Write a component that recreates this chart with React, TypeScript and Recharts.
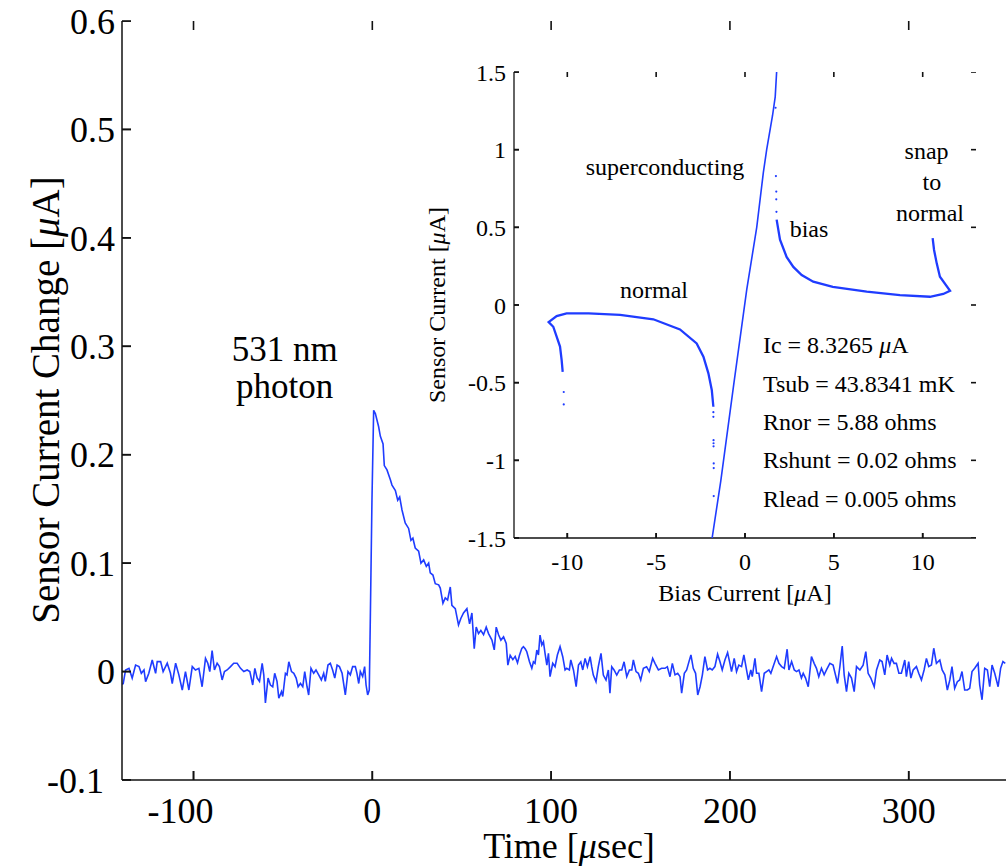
import React from 'react';
import { ComposedChart, ScatterChart, Line, Scatter, XAxis, YAxis } from 'recharts';

const SERIF = '"Liberation Serif", "Times New Roman", serif';
const BLUE = '#1f3cff';
const AXIS = '#111';

// main trace: time [usec] and sensor current change [uA]
const traceTime = [
  -139.8, -139.3, -138.0, -136.1, -134.3, -132.4, -130.5, -129.2, -127.7, -126.8,
  -125.0, -123.1, -121.2, -120.3, -118.4, -117.0, -114.7, -112.9, -111.9, -110.0,
  -108.2, -106.3, -104.5, -102.6, -100.7, -98.9, -97.0, -95.2, -93.3, -92.0,
  -90.9, -89.6, -88.3, -86.8, -85.5, -84.0, -82.7, -81.2, -79.3, -77.5,
  -75.6, -73.7, -71.9, -70.0, -68.5,
  -66.9, -65.7, -64.4, -63.1, -61.6, -60.7, -59.8, -58.3, -57.0, -55.7,
  -54.6, -53.3, -52.3, -50.8, -50.1, -48.6, -47.7, -46.7, -45.2, -43.9,
  -42.6, -41.5, -40.2, -38.9, -37.8, -36.5, -35.6, -34.3, -32.8, -31.5,
  -30.0, -28.5, -27.2, -26.3, -24.8, -23.5, -22.2, -21.0, -19.7, -18.4,
  -16.9, -15.1, -13.6, -12.3, -11.0, -9.5, -8.6, -7.6, -6.7, -5.4,
  -4.3, -3.5, -2.6, -1.7, -1.1, -0.2, 0.75,
  1.7, 3.5, 4.5, 6.0, 6.7, 8.2, 10.1, 11.0, 12.9, 14.2,
  15.3, 16.6, 18.4, 20.3, 21.6, 22.7, 24.0, 25.9, 27.2, 28.7,
  30.2, 31.5, 32.4, 33.9, 35.2, 37.1, 38.0, 39.5, 40.8, 42.1,
  43.6, 44.5, 46.4, 48.2, 49.5, 51.0, 52.9, 54.4, 55.7, 57.0,
  58.1, 59.4, 60.7, 62.2, 63.7, 65.0, 66.9, 68.2, 69.3, 70.6,
  71.9, 73.4, 74.9, 75.8, 77.1, 78.6, 79.9, 81.2, 82.3,
  83.6, 84.5, 85.5, 86.4, 87.9, 89.2, 90.1, 91.0, 92.0, 92.9,
  93.8, 94.8, 95.7, 96.6, 97.6, 98.5, 99.4, 100.9, 102.2, 103.5,
  105.0, 106.5, 107.8, 108.7, 110.2, 111.0, 112.5, 114.0, 115.3, 116.6,
  117.7, 119.0, 120.3, 121.8, 122.7, 123.6, 125.1, 126.4, 127.9, 129.2,
  130.7, 132.0, 132.9, 133.9, 135.2, 136.7, 138.2, 139.5, 140.8, 142.3,
  143.8, 145.1, 146.0, 147.5, 148.8, 150.1, 151.6, 153.4, 154.9, 156.8,
  158.1, 160.0, 161.8, 163.7, 165.0,
  166.5, 167.8, 169.3, 170.8, 172.1, 173.0, 174.5, 175.8, 177.1, 178.2,
  179.5, 180.8, 182.0, 183.3, 184.6, 186.0, 187.5, 188.8, 190.1, 191.6,
  193.1, 194.4, 195.7, 197.2, 198.7, 200.0, 200.9, 202.4, 203.7, 205.0,
  206.5, 207.8, 209.3, 210.3, 211.7, 212.5, 214.0, 214.9, 216.2, 217.7,
  219.2, 220.5, 221.8, 222.9, 224.2, 226.1, 227.4, 228.9, 230.4, 232.0,
  233.0, 234.5, 236.0, 237.3, 238.6, 240.0, 241.0, 242.3, 243.8, 245.6,
  247.1, 248.4, 249.7, 251.2, 252.7, 254.0, 255.9, 257.7,
  260.2, 261.5, 262.8, 263.9, 265.2, 266.5, 268.0, 269.5, 270.8, 272.7,
  274.5, 276.0, 277.3, 278.8, 280.7, 282.0, 283.8, 285.1, 286.6, 287.9,
  289.4, 290.4, 291.8, 293.1, 294.5, 295.9, 297.8, 298.7, 300.0, 301.2,
  302.5, 304.3, 305.6, 307.1, 308.6, 309.9, 311.2, 312.7, 314.0, 315.5,
  317.4, 318.7, 320.2, 321.6, 323.0, 324.2, 325.7, 327.2, 328.5, 329.8,
  331.3, 332.8, 334.1, 335.4, 336.9, 338.8, 339.7, 341.0, 342.5, 344.0,
  345.3, 346.6, 348.1, 350.0, 351.4, 352.7, 354.0,
];
const traceValue = [
  -0.012, -0.011, 0.0015, 0.003, -0.006, 0.006, 0.0046, -0.0016, 0.0015, -0.0093,
  -0.0016, 0.0107, -0.0016, 0.0092, 0.0092, 0.0, 0.0077, -0.0016, -0.011, 0.0077,
  -0.003, -0.017, 0.0, -0.017, 0.0046, 0.0015, 0.003, -0.014, 0.0122, 0.0077,
  0.0, 0.0193, 0.0015, 0.0077, 0.0046, -0.0077, 0.0, 0.0015, 0.0046, 0.0077,
  0.0077, 0.003, 0.0, 0.0015, 0.0,
  -0.0124, 0.003, -0.006, -0.009, 0.0076, -0.003, -0.029, -0.006, -0.0124, -0.014,
  -0.0016, -0.009, -0.0246, -0.0185, -0.023, -0.0016, -0.003, 0.009, 0.0, -0.0016,
  -0.006, -0.014, -0.011, -0.014, 0.0, -0.014, -0.0216, 0.003, -0.0016, 0.0015,
  -0.003, -0.0077, -0.0016, -0.009, 0.006, 0.0076, 0.0015, -0.006, 0.006, 0.0046,
  -0.0016, -0.0216, 0.0, -0.003, 0.0046, 0.0046, -0.0016, -0.011, 0.0, -0.0046,
  0.0046, -0.0124, -0.0216, -0.017, 0.051, 0.158, 0.241,
  0.238, 0.226, 0.217, 0.21, 0.19, 0.186, 0.177, 0.172, 0.167, 0.158,
  0.161, 0.149, 0.137, 0.132, 0.121, 0.123, 0.114, 0.111, 0.1, 0.103,
  0.097, 0.1, 0.091, 0.089, 0.081, 0.08, 0.077, 0.063, 0.068, 0.066,
  0.078, 0.061, 0.058, 0.043, 0.049, 0.054, 0.058, 0.044, 0.054, 0.021,
  0.041, 0.035, 0.038, 0.034, 0.041, 0.035, 0.029, 0.02, 0.041, 0.034,
  0.029, 0.032, 0.026, 0.006, 0.015, 0.011, 0.014, 0.008, 0.015,
  0.0214, 0.023, 0.021, 0.0183, 0.009, 0.003, 0.009, 0.0076, 0.0199, 0.0153,
  0.0337, 0.0245, 0.0276, 0.0168, 0.006, 0.0168, -0.0047, 0.0076, 0.0045, 0.0153,
  0.023, 0.0137, 0.0015, 0.003, 0.0015, 0.0107, 0.0015, -0.0139, 0.006, 0.009,
  0.0015, 0.0122, 0.0045, 0.0137, 0.0045, -0.0032, -0.0093, 0.0045, 0.0168, -0.0032,
  -0.0078, 0.0015, -0.02, 0.0045, 0.0015, -0.0032, 0.0015, 0.0015, 0.009, -0.0047,
  0.0015, 0.0015, 0.0107, 0.0, -0.0016, -0.0078, 0.003, 0.0045, 0.0, 0.0122,
  0.0076, 0.0015, 0.003, 0.003, 0.0045,
  -0.0047, 0.0076, -0.003, -0.0016, -0.0047, -0.02, -0.0016, 0.0015, 0.0092, 0.0153,
  0.003, -0.0016, -0.0216, -0.014, -0.003, 0.0138, 0.0015, 0.003, 0.0015, 0.0046,
  0.016, 0.0092, 0.0015, 0.0107, 0.0175, 0.0076, 0.0, 0.0122, 0.0, 0.006,
  0.0046, 0.0153, 0.0015, -0.0077, 0.0015, -0.0047, 0.0122, -0.0016, -0.0016, -0.0185,
  -0.0016, 0.0, 0.0015, -0.0016, 0.0046, 0.0138, 0.0076, 0.0046, 0.003, 0.0206,
  0.0015, 0.0092, 0.0015, 0.0, 0.0015, -0.006, -0.0016, -0.006, -0.014, 0.0138,
  0.0076, 0.003, -0.0047, 0.003, -0.003, 0.0015, 0.0076, 0.006,
  -0.011, 0.0046, 0.0236, -0.003, -0.0185, -0.0016, -0.006, -0.0185, 0.0046, 0.0015,
  0.006, 0.0184, -0.0016, -0.006, -0.014, 0.0015, 0.0107, 0.0092, -0.003, 0.0153,
  0.006, 0.0122, 0.0076, 0.0076, -0.0016, -0.0016, 0.0107, -0.0047, 0.0092, -0.006,
  0.0015, 0.0046, -0.0016, -0.0077, 0.0015, 0.0122, 0.0046, 0.006, 0.0215, 0.0076,
  0.0107, 0.0015, -0.003, -0.017, -0.0077, 0.0046, -0.0154, -0.0093, -0.0077, 0.0,
  -0.017, -0.017, -0.0154, 0.0, 0.003, 0.0076, -0.0124, -0.026, 0.003, 0.0015,
  -0.014, 0.006, -0.0016, -0.014, 0.003, 0.0092, 0.0076,
];

const timeDomain = [-140, 360];
const changeDomain = [-0.1, 0.6];
const timeTicks = [-100, 0, 100, 200, 300];
const changeTicks = [-0.1, 0, 0.1, 0.2, 0.3, 0.4, 0.5, 0.6];

const photonText = ['531 nm', 'photon'];
const photonT = [-49, -49];
const photonV = [0.2865, 0.2523];

// inset: I-V curve, bias current [uA] vs sensor current [uA]
const normalX = [-10.26, -10.32, -10.41, -10.6, -10.79, -11.05, -10.6, -10.04, -8.8, -7.03, -5.16, -3.66, -2.72, -2.34, -2.06, -1.87, -1.78];
const normalY = [-0.43, -0.354, -0.268, -0.204, -0.14, -0.11, -0.071, -0.054, -0.054, -0.064, -0.092, -0.157, -0.247, -0.333, -0.44, -0.547, -0.655];
const superX = [-1.85, -1.36, -0.62, 0.1, 0.66, 1.03, 1.22, 1.55, 1.7, 1.78];
const superY = [-1.5, -1.13, -0.5, 0.1, 0.5, 0.85, 1.0, 1.22, 1.34, 1.5];
const biasX = [1.78, 1.97, 2.34, 2.72, 3.19, 3.84, 4.94, 6.85, 8.72, 10.41, 11.16, 11.54, 10.97, 10.79, 10.64, 10.56];
const biasY = [0.55, 0.42, 0.31, 0.245, 0.193, 0.15, 0.116, 0.086, 0.064, 0.053, 0.071, 0.092, 0.182, 0.268, 0.354, 0.43];
const strayX = [1.72, 1.74, 1.76, 1.76, 1.77, 10.49, -10.2, -10.2, -1.78, -1.78, -1.77, -1.77, -1.77, -1.76, -1.76, -1.76];
const strayY = [1.27, 0.83, 0.73, 0.68, 0.6, 0.56, -0.56, -0.64, -0.69, -0.72, -0.87, -0.89, -0.91, -1.02, -1.05, -1.23];

const biasDomain = [-13, 13];
const currentDomain = [-1.5, 1.5];
const biasTicks = [-10, -5, 0, 5, 10];
const currentTicks = [-1.5, -1, -0.5, 0, 0.5, 1, 1.5];

const regionText = ['superconducting', 'normal', 'bias', 'snap', 'to', 'normal'];
const regionX = [-4.5, -5.12, 3.6, 10.22, 10.52, 10.41];
const regionY = [0.837, 0.045, 0.44, 0.94, 0.74, 0.543];

const paramText = ['Ic = 8.3265 μA', 'Tsub = 43.8341 mK', 'Rnor = 5.88 ohms', 'Rshunt = 0.02 ohms', 'Rlead = 0.005 ohms'];
const paramX = [1.01, 1.01, 1.01, 1.01, 1.01];
const paramY = [-0.309, -0.558, -0.805, -1.051, -1.302];

const pairs = (xs: number[], ys: number[]) => xs.map((x, i) => ({ x, y: ys[i] }));
const notes = (xs: number[], ys: number[], texts: string[]) => xs.map((x, i) => ({ x, y: ys[i], label: texts[i] }));
const alongX = (ticks: number[], y: number) => ticks.map((x) => ({ x, y }));
const alongY = (ticks: number[], x: number) => ticks.map((y) => ({ x, y }));

const trace = pairs(traceTime, traceValue);

const rich = (s: string) =>
  s.split('μ').flatMap((part, i) => (i === 0 ? [part] : [<tspan key={i} fontStyle="italic">μ</tspan>, part]));

const textShape = (anchor: 'start' | 'middle', size: number) => (p: any) => (
  <text x={p.cx} y={p.cy} textAnchor={anchor} fontSize={size} fontFamily={SERIF} fill="#000">
    {rich(p.payload.label)}
  </text>
);

// short inward tick mark drawn at a point on the frame
const markShape = (dx: number, dy: number) => (p: any) => (
  <line x1={p.cx} y1={p.cy} x2={p.cx + dx} y2={p.cy + dy} stroke={AXIS} strokeWidth={1.6} />
);

// tick labels plus the inward tick line; gap = tickMargin of the axis
const tickText = (side: 'bottom' | 'left', size: number, gap: number, len: number, negShift = 0) => (p: any) => {
  const v = p.payload.value;
  const dx = v < 0 ? negShift : 0;
  if (side === 'bottom') {
    const ay = p.y - gap;
    return (
      <g>
        <path d={`M${p.x},${ay}L${p.x},${ay - len}`} stroke={AXIS} strokeWidth={1.6} fill="none" />
        <text x={p.x + dx} y={p.y} dy="0.71em" textAnchor="middle" fontSize={size} fontFamily={SERIF} fill="#000">{v}</text>
      </g>
    );
  }
  const ax = p.x + gap;
  return (
    <g>
      <path d={`M${ax},${p.y}L${ax + len},${p.y}`} stroke={AXIS} strokeWidth={1.6} fill="none" />
      <text x={p.x + dx} y={p.y} dy="0.355em" textAnchor="end" fontSize={size} fontFamily={SERIF} fill="#000">{v}</text>
    </g>
  );
};

const dotShape = (p: any) => <circle cx={p.cx} cy={p.cy} r={1.1} fill={BLUE} />;
const hidden = () => <g />;
const noLabel = () => '';

const Title = ({ x, y, text, size, rotate = false }: any) => (
  <text x={x} y={y} transform={rotate ? `rotate(-90 ${x} ${y})` : undefined} textAnchor="middle"
    dominantBaseline={rotate ? 'central' : undefined} fontSize={size} fontFamily={SERIF} fill="#000">
    {rich(text)}
  </text>
);

export default function App() {
  const mainLine = { stroke: AXIS, strokeWidth: 1.5 };
  const insetLine = { stroke: AXIS, strokeWidth: 1.3 };
  return (
    <div style={{ position: 'absolute', left: 0, top: 0, width: 1006, height: 866, overflow: 'hidden', background: '#fff' }}>
      <ComposedChart width={1040} height={866} margin={{ top: 21, right: 24, bottom: 26, left: 62 }}>
        <XAxis dataKey="x" type="number" domain={timeDomain} ticks={timeTicks} allowDataOverflow height={60}
          axisLine={mainLine} tickLine={false} tickSize={0} tickMargin={17} tick={tickText('bottom', 36, 17, 9, -13)} />
        <XAxis xAxisId="top" orientation="top" dataKey="x" type="number" domain={timeDomain} ticks={timeTicks} allowDataOverflow height={0}
          axisLine={mainLine} tickLine={false} tickSize={0} tickFormatter={noLabel} />
        {/* reversed hidden axes: the bottom and left frame edges sit at their maxima */}
        <XAxis xAxisId="flip" hide reversed dataKey="x" type="number" domain={timeDomain} allowDataOverflow />
        <YAxis dataKey="y" type="number" domain={changeDomain} ticks={changeTicks} allowDataOverflow width={60}
          axisLine={mainLine} tickLine={false} tickSize={0} tickMargin={7} tick={tickText('left', 36, 7, 9, -11)} />
        <YAxis yAxisId="flip" hide reversed dataKey="y" type="number" domain={changeDomain} allowDataOverflow />
        <Line data={trace} dataKey="y" stroke={BLUE} strokeWidth={1.6} dot={false} isAnimationActive={false} />
        <Scatter data={alongX(timeTicks, changeDomain[1])} yAxisId="flip" shape={markShape(0, -9)} isAnimationActive={false} />
        <Scatter data={alongY(changeTicks, timeDomain[1])} xAxisId="flip" shape={markShape(9, 0)} isAnimationActive={false} />
        <Scatter data={alongX(timeTicks, changeDomain[1])} shape={markShape(0, 9)} isAnimationActive={false} />
        <Scatter data={notes(photonT, photonV, photonText)} shape={textShape('middle', 35)} isAnimationActive={false} />
      </ComposedChart>

      <div style={{ position: 'absolute', left: 400, top: 40 }}>
        <ScatterChart width={600} height={580} margin={{ top: 32, right: 24, bottom: 42, left: 54 }}>
          <XAxis dataKey="x" type="number" domain={biasDomain} ticks={biasTicks} allowDataOverflow height={40}
            axisLine={insetLine} tickLine={false} tickSize={0} tickMargin={15} tick={tickText('bottom', 24, 15, 5)} />
          <XAxis xAxisId="top" orientation="top" dataKey="x" type="number" domain={biasDomain} ticks={biasTicks} allowDataOverflow height={0}
            axisLine={insetLine} tickLine={false} tickSize={0} tickFormatter={noLabel} />
          <XAxis xAxisId="flip" hide reversed dataKey="x" type="number" domain={biasDomain} allowDataOverflow />
          <YAxis dataKey="y" type="number" domain={currentDomain} ticks={currentTicks} allowDataOverflow width={60}
            axisLine={insetLine} tickLine={false} tickSize={0} tickMargin={8} tick={tickText('left', 24, 8, 5)} />
          <YAxis yAxisId="right" orientation="right" dataKey="y" type="number" domain={currentDomain} ticks={currentTicks} allowDataOverflow width={0}
            axisLine={insetLine} tickLine={false} tickSize={0} tickFormatter={noLabel} />
          <YAxis yAxisId="flip" hide reversed dataKey="y" type="number" domain={currentDomain} allowDataOverflow />
          <Scatter data={alongX(biasTicks, currentDomain[1])} yAxisId="flip" shape={markShape(0, -5)} isAnimationActive={false} />
          <Scatter data={alongY(currentTicks, biasDomain[1])} xAxisId="flip" shape={markShape(5, 0)} isAnimationActive={false} />
          <Scatter data={alongX(biasTicks, currentDomain[1])} shape={markShape(0, 5)} isAnimationActive={false} />
          <Scatter data={alongY(currentTicks, biasDomain[1])} shape={markShape(-5, 0)} isAnimationActive={false} />
          <Scatter data={pairs(normalX, normalY)} line={{ stroke: BLUE, strokeWidth: 2.3 }} shape={hidden} isAnimationActive={false} />
          <Scatter data={pairs(superX, superY)} line={{ stroke: BLUE, strokeWidth: 1.6 }} shape={hidden} isAnimationActive={false} />
          <Scatter data={pairs(biasX, biasY)} line={{ stroke: BLUE, strokeWidth: 2.3 }} shape={hidden} isAnimationActive={false} />
          <Scatter data={pairs(strayX, strayY)} shape={dotShape} isAnimationActive={false} />
          <Scatter data={notes(regionX, regionY, regionText)} shape={textShape('middle', 24)} isAnimationActive={false} />
          <Scatter data={notes(paramX, paramY, paramText)} shape={textShape('start', 24)} isAnimationActive={false} />
        </ScatterChart>
      </div>

      {/* axis titles */}
      <svg width={1006} height={866} style={{ position: 'absolute', left: 0, top: 0, pointerEvents: 'none' }}>
        <Title x={569} y={858} text="Time [μsec]" size={36} />
        <Title x={45} y={400} text="Sensor Current Change [μA]" size={39} rotate />
        <Title x={745} y={601} text="Bias Current [μA]" size={24} />
        <Title x={437} y={305} text="Sensor Current [μA]" size={24} rotate />
      </svg>
    </div>
  );
}
